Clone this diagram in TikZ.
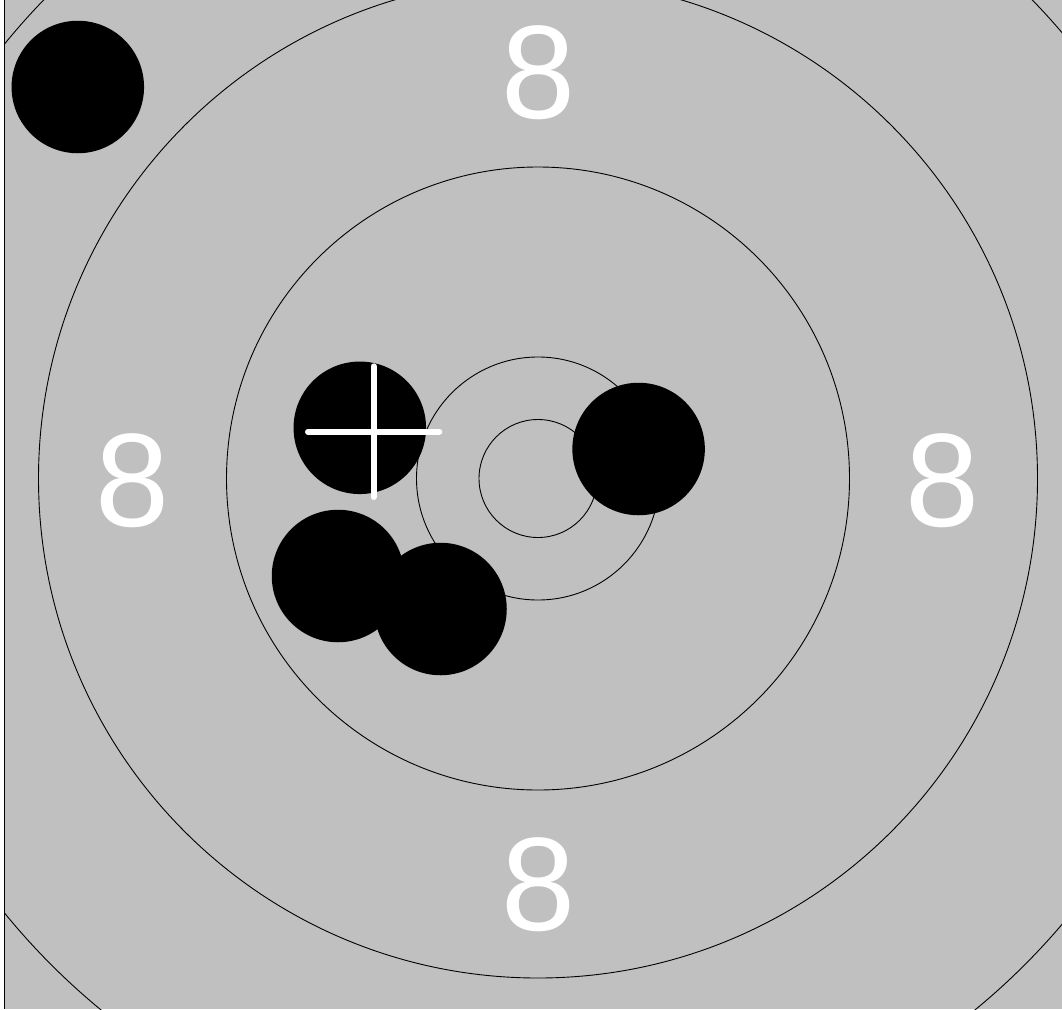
\documentclass[tikz,border=0pt]{standalone}
\usepackage{fontspec}
\setmainfont{Liberation Sans}
\definecolor{targetgray}{RGB}{192,192,192}
\begin{document}
\begin{tikzpicture}[x=1pt,y=-1pt,
  ring/.style={draw=black,line width=0.9pt},
  shot/.style={circle,fill=black,draw=none,minimum size=132.5pt,inner sep=0pt,outer sep=0pt},
  digit/.style={text=white,inner sep=0pt,outer sep=0pt,font=\fontsize{133}{133}\selectfont},
  crossline/.style={draw=white,line width=6pt,line cap=round}]
\useasboundingbox (0,0) rectangle (1062,1009);
\fill[white] (0,0) rectangle (1062,1009);
\fill[targetgray] (5,0) rectangle (1062,1009);
\coordinate (c) at (538,478.5);
\begin{scope}
  \clip (5,0) rectangle (1062,1009);
  \draw[ring] (c) circle[radius=688pt];
  \draw[ring] (c) circle[radius=499.5pt];
  \draw[ring] (c) circle[radius=311.5pt];
  \draw[ring] (c) circle[radius=121.5pt];
  \draw[ring] (c) circle[radius=59pt];
\end{scope}
\draw[black,line width=1.2pt] (4.6,0) -- (4.6,1009);
\node[digit] (ntop) at (538.5,72.5) {8};
\node[digit] (nleft) at (132,480.5) {8};
\node[digit] (nright) at (942,480.5) {8};
\node[digit] (nbottom) at (538.5,884.5) {8};
\node[shot] (s1) at (77.8,87) {};
\node[shot] (s2) at (359.8,427.8) {};
\node[shot] (s3) at (338,576) {};
\node[shot] (s4) at (440.5,609) {};
\node[shot] (s5) at (638.6,449) {};
\coordinate (chl) at (308,431.7);
\coordinate (chr) at (439.3,431.7);
\coordinate (cvt) at (373.7,366.3);
\coordinate (cvb) at (373.7,497);
\draw[crossline] (chl) -- (chr);
\draw[crossline] (cvt) -- (cvb);
\end{tikzpicture}
\end{document}
